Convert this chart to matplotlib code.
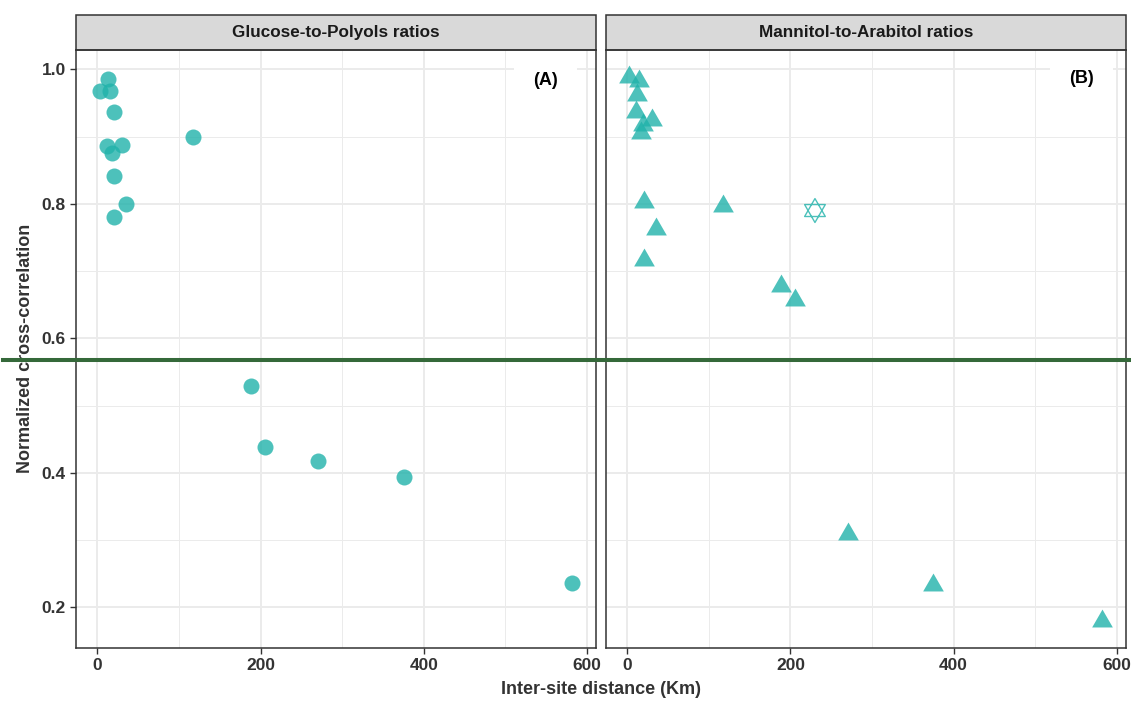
import numpy as np
import matplotlib
matplotlib.use('Agg')
from matplotlib import pyplot as plt
from matplotlib.path import Path
from matplotlib.patches import Rectangle
from matplotlib.lines import Line2D
from matplotlib.ticker import MultipleLocator
import matplotlib.transforms as mtransforms

# Glucose-to-Polyols ratios: inter-site distance (km) vs normalized cross-correlation
glu_dist = [2.8, 12.6, 15.1, 20.8, 117.3, 11.9, 30.6, 18.4, 20.8, 35.5, 20.8,
            188.7, 205.6, 270.4, 375.6, 582.0]
glu_corr = [0.968, 0.985, 0.968, 0.936, 0.900, 0.886, 0.888, 0.876, 0.842, 0.800, 0.780,
            0.529, 0.438, 0.418, 0.394, 0.236]

# Mannitol-to-Arabitol ratios
man_dist = [2.5, 14.7, 11.4, 10.6, 30.2, 19.6, 16.8, 20.8, 35.1, 20.0, 117.7,
            188.6, 205.2, 270.3, 375.2, 581.3]
man_corr = [0.988, 0.982, 0.962, 0.937, 0.925, 0.917, 0.906, 0.803, 0.763, 0.716, 0.797,
            0.678, 0.657, 0.309, 0.233, 0.180]

# site pair drawn as an open star in panel B
star_dist = [230.0]
star_corr = [0.790]

cc_threshold = 0.568

panel_titles = ['Glucose-to-Polyols ratios', 'Mannitol-to-Arabitol ratios']
panel_tags = ['(A)', '(B)']
tag_x = [549, 557]
tag_y = [0.984, 0.987]

teal = '#20B2AA'
dark = '#333333'
plt.rcParams['font.family'] = ['Liberation Sans', 'DejaVu Sans']

# equilateral triangles centred on their centroid (like R's pch 17)
h = np.sqrt(3) / 2
tri_up = [(0, 2 * h / 3), (-0.5, -h / 3), (0.5, -h / 3), (0, 2 * h / 3)]
tri_dn = [(x, -y) for x, y in tri_up]
star = Path(tri_up + tri_dn,
            [Path.MOVETO, Path.LINETO, Path.LINETO, Path.CLOSEPOLY] * 2)

fig, (ax1, ax2) = plt.subplots(1, 2, sharey=True, figsize=(11.31, 7.01), dpi=100)
fig.subplots_adjust(left=0.0672, right=0.9953, bottom=0.076, top=0.9287, wspace=0.0192)

ax1.scatter(glu_dist, glu_corr, s=133, color=teal, alpha=0.8, linewidths=0, zorder=3)
ax2.scatter(man_dist, man_corr, s=296, marker=tri_up, color=teal, alpha=0.8,
            linewidths=0, zorder=3)
ax2.scatter(star_dist, star_corr, s=296, marker=star, facecolors='none',
            edgecolors=teal, alpha=0.8, linewidths=1.0, zorder=3)

for ax, title, tag, tx, ty in zip([ax1, ax2], panel_titles, panel_tags, tag_x, tag_y):
    ax.set_xlim(-26.3, 610.8)
    ax.set_ylim(0.14, 1.0287)
    ax.xaxis.set_major_locator(MultipleLocator(200))
    ax.xaxis.set_minor_locator(MultipleLocator(100))
    ax.yaxis.set_major_locator(MultipleLocator(0.2))
    ax.yaxis.set_minor_locator(MultipleLocator(0.1))
    ax.set_axisbelow(True)
    ax.grid(which='major', color='#EBEBEB', lw=1.4)
    ax.grid(which='minor', color='#EBEBEB', lw=0.7)
    for sp in ax.spines.values():
        sp.set_color(dark)
        sp.set_linewidth(1.1)
    ax.tick_params(which='major', length=4.3, width=1, color=dark, labelsize=12.5,
                   labelcolor=dark, pad=3)
    ax.tick_params(which='minor', length=0)
    for lab in ax.get_xticklabels() + ax.get_yticklabels():
        lab.set_fontweight('bold')

    # facet strip
    strip_h = 35.3 / 597.7
    ax.add_patch(Rectangle((0, 1), 1, strip_h, transform=ax.transAxes, clip_on=False,
                           facecolor='#D9D9D9', edgecolor=dark, lw=1.1))
    ax.text(0.5, 1 + strip_h / 2, title, transform=ax.transAxes, ha='center',
            va='center', fontsize=12.3, fontweight='bold', color='#1A1A1A')

    ax.text(tx, ty, tag, fontweight='bold', fontsize=13, ha='center', va='center',
            color='black', zorder=4,
            bbox=dict(boxstyle='square,pad=1.05', fc='white', ec='none'))

ax2.tick_params(left=False, labelleft=False)

ax1.set_ylabel('Normalized cross-correlation', fontsize=13, fontweight='bold', color=dark)
ax1.yaxis.set_label_coords(-42 / 519.7, 0.5)
fig.text(0.531, 1 - 690 / 701, 'Inter-site distance (Km)', ha='center', va='center',
         fontsize=13, fontweight='bold', color=dark)

# threshold line runs across the whole figure
trans = mtransforms.blended_transform_factory(fig.transFigure, ax1.transData)
fig.add_artist(Line2D([0.003, 1.0], [cc_threshold, cc_threshold], transform=trans,
                      color='#35693A', lw=2.9, zorder=10))

fig.savefig('out.png', dpi=100)
